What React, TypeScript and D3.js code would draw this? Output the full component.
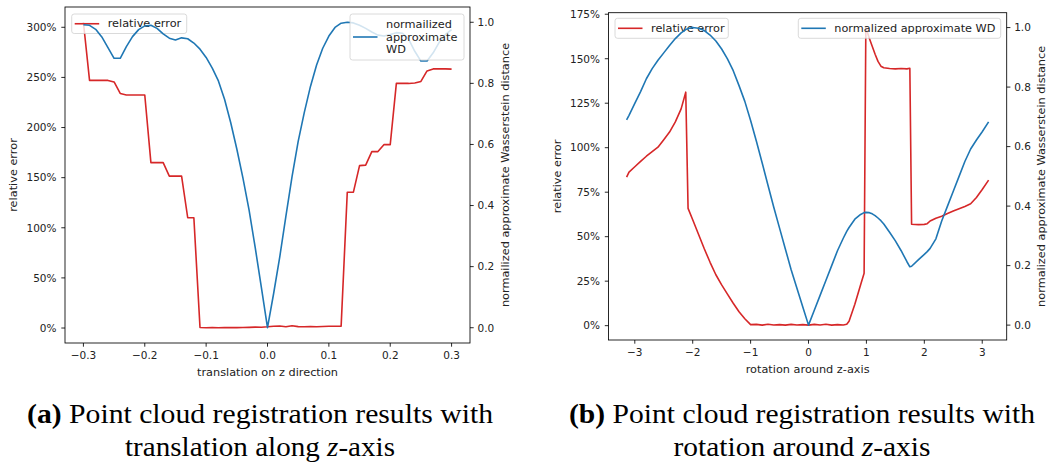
import React from 'react';
import * as d3 from 'd3';

// translation on z direction (subfigure a)
const transX = [
  -0.3, -0.29, -0.28, -0.27, -0.26, -0.25, -0.24, -0.23, -0.22, -0.21,
  -0.2, -0.19, -0.18, -0.17, -0.16, -0.15, -0.14, -0.13, -0.12, -0.11,
  -0.1, -0.09, -0.08, -0.07, -0.06, -0.05, -0.04, -0.03, -0.02, -0.01,
  0, 0.01, 0.02, 0.03, 0.04, 0.05, 0.06, 0.07, 0.08, 0.09,
  0.1, 0.11, 0.12, 0.13, 0.14, 0.15, 0.16, 0.17, 0.18, 0.19,
  0.2, 0.21, 0.22, 0.23, 0.24, 0.25, 0.26, 0.27, 0.28, 0.29, 0.3,
];
const transErr = [
  305, 247, 247, 247.2, 247, 245.5, 234, 232.5, 232.5, 232.5,
  232.5, 165, 165, 165, 151.5, 151.5, 151.5, 110, 110, 0.5,
  0.3, 0.4, 0.3, 0.5, 0.4, 0.4, 0.6, 0.7, 0.9, 0.8,
  1.2, 1.8, 2.0, 1.3, 2.3, 1.4, 1.3, 1.5, 1.3, 1.5,
  1.7, 1.8, 1.9, 135.5, 135.5, 162, 162.5, 176, 176, 183,
  183, 244, 244, 244, 244.5, 246, 256.5, 258.5, 258.5, 258.5, 258.3,
];
const transWd = [
  0.992, 0.99, 0.977, 0.952, 0.917, 0.882, 0.882, 0.92, 0.953, 0.976,
  0.988, 0.99, 0.98, 0.962, 0.948, 0.942, 0.949, 0.946, 0.932, 0.912,
  0.885, 0.85, 0.808, 0.748, 0.672, 0.585, 0.49, 0.385, 0.262, 0.132,
  0, 0.112, 0.232, 0.365, 0.495, 0.61, 0.705, 0.79, 0.86, 0.915,
  0.955, 0.983, 0.997, 1.0, 0.998, 0.99, 0.98, 0.968, 0.958, 0.955,
  0.96, 0.966, 0.964, 0.945, 0.905, 0.873, 0.873, 0.9, 0.935, 0.96, 0.976,
];

// rotation around z-axis (subfigure b)
const rotX = [
  -3.1416, -3.1, -3.0, -2.9, -2.8, -2.7, -2.6, -2.5, -2.4, -2.3,
  -2.2, -2.12, -2.08, -2.0, -1.9, -1.8, -1.7, -1.6, -1.5, -1.4,
  -1.3, -1.2, -1.1, -1.0, -0.9, -0.8, -0.7, -0.6, -0.5, -0.4,
  -0.3, -0.2, -0.1, 0, 0.1, 0.2, 0.3, 0.4, 0.5, 0.6,
  0.66, 0.7, 0.8, 0.9, 0.96, 0.99, 1.05, 1.1, 1.15, 1.2,
  1.25, 1.3, 1.4, 1.5, 1.6, 1.7, 1.75, 1.78, 1.9, 2.0,
  2.05, 2.1, 2.2, 2.3, 2.4, 2.5, 2.6, 2.7, 2.8, 2.9,
  3.0, 3.11,
];
const rotErr = [
  83.5, 86.3, 89.3, 92.3, 95.2, 97.8, 100.3, 104.5, 108.8, 114.5,
  121.8, 131.2, 65.9, 59.5, 51.4, 43.2, 35.6, 28.6, 22.9, 17.7,
  12.6, 7.8, 3.9, 0.6, 0.7, 0.3, 0.8, 0.4, 0.6, 0.3,
  0.7, 0.4, 0.6, 0.3, 0.7, 0.4, 0.8, 0.3, 0.6, 0.4,
  0.8, 2.5, 12.0, 23.0, 29.5, 167.5, 161.5, 157, 152.5, 148.5,
  145.8, 144.9, 144.5, 144.3, 144.5, 144.3, 144.6, 57, 56.8, 56.9,
  57.3, 58.8, 60.4, 61.5, 63, 64.4, 65.7, 67, 68.5, 72,
  76.5, 81.8,
];
const rotWd = [
  0.69, 0.705, 0.745, 0.785, 0.828, 0.862, 0.89, 0.915, 0.94, 0.963,
  0.982, 0.993, 0.997, 1.0, 0.998, 0.99, 0.975, 0.955, 0.928, 0.895,
  0.855, 0.805, 0.752, 0.688, 0.618, 0.545, 0.47, 0.396, 0.326, 0.256,
  0.186, 0.124, 0.062, 0, 0.05, 0.1, 0.15, 0.2, 0.25, 0.292,
  0.315, 0.328, 0.356, 0.372, 0.378, 0.379, 0.378, 0.374, 0.368, 0.36,
  0.351, 0.34, 0.312, 0.283, 0.25, 0.213, 0.196, 0.198, 0.22, 0.238,
  0.247, 0.258, 0.29, 0.35, 0.4, 0.45, 0.5, 0.55, 0.592, 0.622,
  0.65, 0.683,
];

const transXTicks = [-0.3, -0.2, -0.1, 0, 0.1, 0.2, 0.3];
const transErrTicks = [0, 50, 100, 150, 200, 250, 300];
const rotXTicks = [-3, -2, -1, 0, 1, 2, 3];
const rotErrTicks = [0, 25, 50, 75, 100, 125, 150, 175];
const wdTicks = [0, 0.2, 0.4, 0.6, 0.8, 1.0];

const RED = '#d62728';
const BLUE = '#1f77b4';
const FONT = 'DejaVu Sans, sans-serif';
const TICK = 3.7;

const pad = (ext: [number, number]): [number, number] => {
  const d = (ext[1] - ext[0]) * 0.05;
  return [ext[0] - d, ext[1] + d];
};

type Box = { l: number; r: number; t: number; b: number };

function Legend({ x, y, w, h, color, lines, lineGap = 12.5 }: any) {
  const cy = y + h / 2;
  const y0 = cy - ((lines.length - 1) * lineGap) / 2;
  return (
    <g>
      <rect x={x} y={y} width={w} height={h} rx={2.5} fill="white" fillOpacity={0.8}
        stroke="#cccccc" strokeOpacity={0.8} strokeWidth={0.9} />
      <line x1={x + 3} x2={x + 27.5} y1={cy} y2={cy} stroke={color} strokeWidth={1.6} />
      {lines.map((s: string, i: number) => (
        <text key={i} x={x + 36} y={y0 + i * lineGap} dominantBaseline="central"
          fontSize={11.3} fill="#222">{s}</text>
      ))}
    </g>
  );
}

function Panel(props: {
  box: Box; xs: number[]; err: number[]; wd: number[];
  xTicks: number[]; errTicks: number[]; xFmt: (v: number) => string;
  xLabel: string; wdLabel: string; legErr: any; legWd: any;
}) {
  const { box, xs, err, wd, xTicks, errTicks, xFmt, xLabel, wdLabel, legErr, legWd } = props;
  const x = d3.scaleLinear().domain(pad(d3.extent(xs) as [number, number])).range([box.l, box.r]);
  const ye = d3.scaleLinear().domain(pad(d3.extent(err) as [number, number])).range([box.b, box.t]);
  const yw = d3.scaleLinear().domain(pad(d3.extent(wd) as [number, number])).range([box.b, box.t]);
  const errLine = d3.line<number>().x((_, i) => x(xs[i])).y((d) => ye(d));
  const wdLine = d3.line<number>().x((_, i) => x(xs[i])).y((d) => yw(d));
  const midY = (box.t + box.b) / 2;
  const midX = (box.l + box.r) / 2;
  const f1 = d3.format('.1f');

  return (
    <g fontFamily={FONT}>
      <path d={errLine(err) || ''} fill="none" stroke={RED} strokeWidth={1.6} strokeLinejoin="round" />
      <Legend {...legErr} color={RED} lines={['relative error']} />
      <path d={wdLine(wd) || ''} fill="none" stroke={BLUE} strokeWidth={1.6} strokeLinejoin="round" />
      <rect x={box.l} y={box.t} width={box.r - box.l} height={box.b - box.t}
        fill="none" stroke="#000" strokeWidth={0.85} />
      <Legend {...legWd} color={BLUE} />

      {xTicks.map((t) => (
        <g key={'x' + t}>
          <line x1={x(t)} x2={x(t)} y1={box.b} y2={box.b + TICK} stroke="#000" strokeWidth={0.85} />
          <text x={x(t)} y={box.b + 15.7} textAnchor="middle" fontSize={10.5} fill="#222">{xFmt(t)}</text>
        </g>
      ))}
      {errTicks.map((t) => (
        <g key={'e' + t}>
          <line x1={box.l - TICK} x2={box.l} y1={ye(t)} y2={ye(t)} stroke="#000" strokeWidth={0.85} />
          <text x={box.l - 8.5} y={ye(t) + 3.8} textAnchor="end" fontSize={10.5} fill="#222">{t + '%'}</text>
        </g>
      ))}
      {wdTicks.map((t) => (
        <g key={'w' + t}>
          <line x1={box.r} x2={box.r + TICK} y1={yw(t)} y2={yw(t)} stroke="#000" strokeWidth={0.85} />
          <text x={box.r + 7.5} y={yw(t) + 3.8} textAnchor="start" fontSize={10.5} fill="#222">{f1(t)}</text>
        </g>
      ))}

      <text x={midX} y={box.b + 32.5} textAnchor="middle" fontSize={11.3} fill="#222">{xLabel}</text>
      <text transform={`translate(${box.l - 51.5},${midY}) rotate(-90)`} textAnchor="middle"
        dominantBaseline="central" fontSize={11.3} fill="#222">relative error</text>
      <text transform={`translate(${box.r + 35},${midY}) rotate(-90)`} textAnchor="middle"
        dominantBaseline="central" fontSize={11.3} fill="#222">{wdLabel}</text>
    </g>
  );
}

function Caption({ cx, tag, line1, line2a, len2 }: any) {
  return (
    <g fontFamily="Liberation Serif, serif" fill="#000">
      <text x={cx} y={423} textAnchor="middle" fontSize={26.4} textLength={466} lengthAdjust="spacingAndGlyphs">
        <tspan fontWeight="bold">{tag}</tspan> {line1}
      </text>
      <text x={cx} y={456} textAnchor="middle" fontSize={26.4} textLength={len2} lengthAdjust="spacingAndGlyphs">
        {line2a}<tspan fontStyle="italic">z</tspan>-axis
      </text>
    </g>
  );
}

export default function App() {
  const fmtT = d3.format('.1f');
  const fmtR = d3.format('d');
  const boxA: Box = { l: 65, r: 470, t: 7, b: 343 };
  const boxB: Box = { l: 608.5, r: 1006.7, t: 12.7, b: 340 };
  return (
    <svg width={1048} height={464} style={{ position: 'absolute', left: 0, top: 0, background: '#fff' }}>
      <rect width={1048} height={464} fill="#fff" />
      <Panel box={boxA} xs={transX} err={transErr} wd={transWd}
        xTicks={transXTicks} errTicks={transErrTicks} xFmt={fmtT}
        xLabel="translation on z direction" wdLabel="normailized approximate Wasserstein distance"
        legErr={{ x: boxA.l + 6.7, y: boxA.t + 7, w: 115, h: 19.5 }}
        legWd={{ x: boxA.r - 120, y: boxA.t + 7, w: 114, h: 46,
          lines: ['normailized', 'approximate', 'WD'] }} />
      <Panel box={boxB} xs={rotX} err={rotErr} wd={rotWd}
        xTicks={rotXTicks} errTicks={rotErrTicks} xFmt={fmtR}
        xLabel="rotation around z-axis" wdLabel="normalized approximate Wasserstein distance"
        legErr={{ x: boxB.l + 6.5, y: boxB.t + 5.6, w: 113.3, h: 20 }}
        legWd={{ x: boxB.r - 208.4, y: boxB.t + 5.6, w: 202.4, h: 20,
          lines: ['normalized approximate WD'] }} />
      <Caption cx={260} tag="(a)" line1="Point cloud registration results with" line2a="translation along " len2={270} />
      <Caption cx={802} tag="(b)" line1="Point cloud registration results with" line2a="rotation around " len2={257} />
    </svg>
  );
}
